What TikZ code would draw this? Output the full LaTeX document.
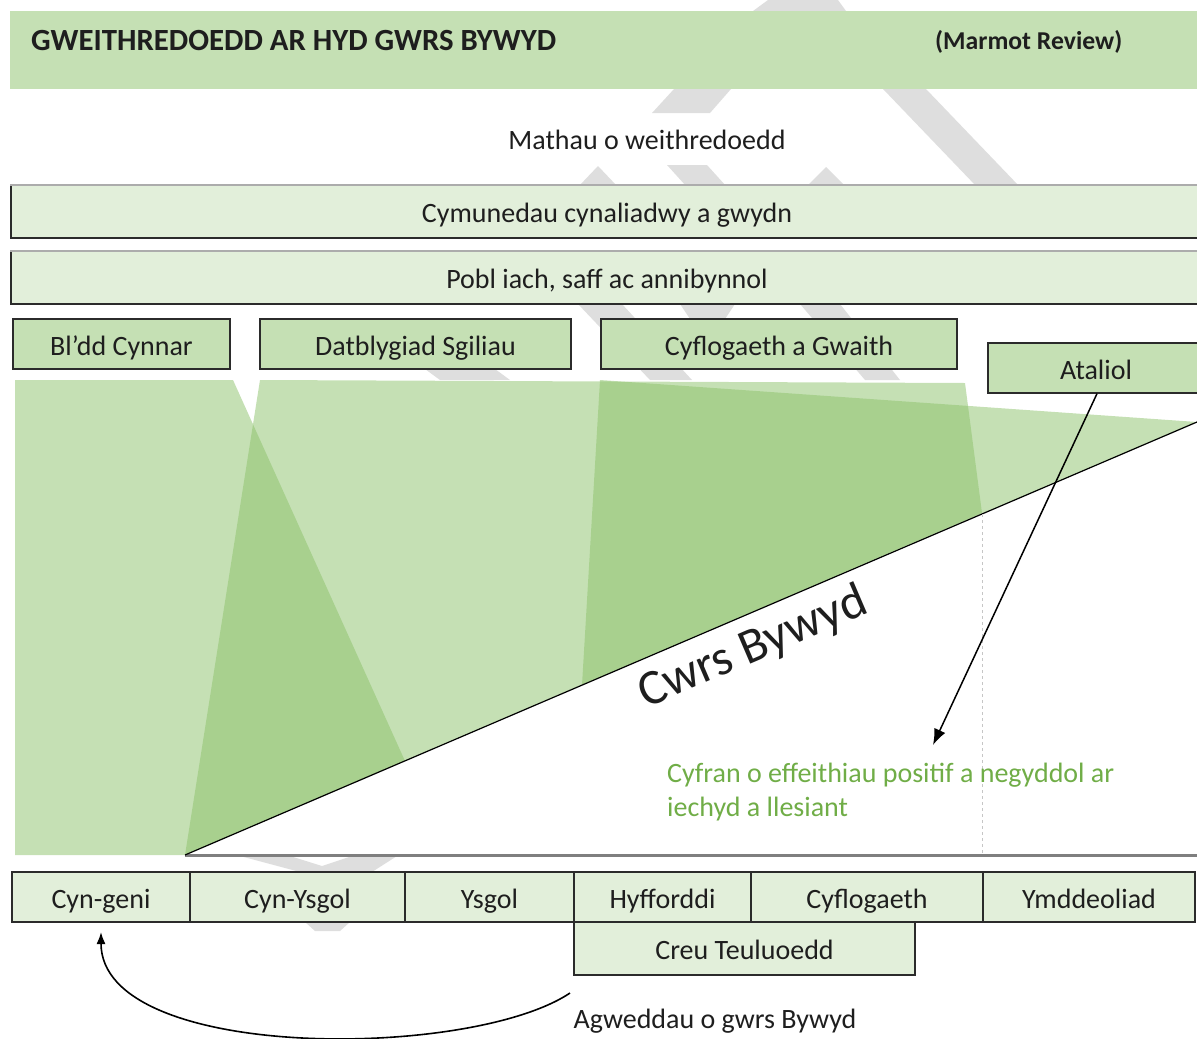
\documentclass[tikz,border=0pt]{standalone}
\usepackage{fontspec}
\setmainfont{Carlito}
\usetikzlibrary{arrows.meta}
\definecolor{hdr}{HTML}{C5E0B4}
\definecolor{pale}{HTML}{E2EFDA}
\definecolor{basegreen}{RGB}{139,193,105}
\definecolor{txtgreen}{HTML}{70AD47}
\definecolor{wm}{HTML}{DEDEDE}
\definecolor{bord}{HTML}{2B2B2B}
\definecolor{ink}{HTML}{1E1E1E}
\definecolor{axisgray}{HTML}{7F7F7F}
\begin{document}
\begin{tikzpicture}[x=1pt,y=-1pt,
  txt/.style={font=\fontsize{28}{34}\selectfont, text=ink, inner sep=0pt},
  boxtext/.style={font=\fontsize{28}{34}\selectfont, text=ink, text height=25pt, text depth=3pt},
  bigbox/.style={boxtext, draw=bord, line width=1.3pt, fill=pale, rectangle, inner sep=0pt,
     minimum height=53pt},
  actbox/.style={boxtext, draw=bord, line width=1.3pt, fill=hdr, rectangle, inner sep=0pt,
     minimum height=50pt},
  stagebox/.style={boxtext, draw=bord, line width=1.3pt, fill=pale, rectangle, inner sep=0pt,
     minimum height=50pt},
  wedge/.style={fill=basegreen, fill opacity=0.5},
  watermark/.style={fill=wm}
]
\useasboundingbox (0,0) rectangle (1197,1039);
\clip (0,0) rectangle (1197,1039);

% faint watermark pieces
\fill[watermark] (753,11) -- (768,0) -- (838,0) -- (846,11) -- cycle;
\fill[watermark] (674,89) -- (731,89) -- (710,113) -- (652,113) -- cycle;
\fill[watermark] (883,89) -- (926,89) -- (1019,186) -- (976,186) -- cycle;
\fill[watermark] (579,186) -- (598,166) -- (617,186) -- cycle;
\fill[watermark] (667,165) -- (707,165) -- (726,186) -- (686,186) -- cycle;
\fill[watermark] (807,186) -- (826,167) -- (845,186) -- cycle;
\fill[watermark] (578,304) -- (622,304) -- (692,380) -- (650,380) -- cycle;
\fill[watermark] (680,304) -- (735,304) -- (725,319) -- (690,319) -- cycle;
\fill[watermark] (800,304) -- (840,304) -- (900,380) -- (865,380) -- cycle;
\fill[watermark] (425,369) -- (495,369) -- (510,380) -- (440,380) -- cycle;
\fill[watermark] (240,856) -- (290,856) -- (322,866) -- (352,856) -- (397,856) -- (372,872) -- (300,872) -- cycle;
\fill[watermark] (305,922) -- (350,922) -- (340,931) -- (315,931) -- cycle;

% header band
\node[fill=hdr, rectangle, inner sep=0pt, minimum width=1187pt, minimum height=78pt] (header) at (603.5,50) {};
\node[txt, font=\bfseries\fontsize{30.8}{36}\selectfont, anchor=west] (title) at (31,41) {GWEITHREDOEDD AR HYD GWRS BYWYD};
\node[txt, font=\bfseries\fontsize{25.7}{32}\selectfont, anchor=west] (marmot) at (935,42) {(Marmot Review)};

\node[txt] (mathau) at (647,140) {Mathau o weithredoedd};

% wide boxes
\node[bigbox, minimum width=1192pt] (cym) at (607,211.5) {Cymunedau cynaliadwy a gwydn};
\node[bigbox, minimum width=1192pt] (pobl) at (607,277.5) {Pobl iach, saff ac annibynnol};
\draw[gray!65, line width=2pt] ([yshift=-1pt]cym.north west) -- ([yshift=-1pt]cym.north east);
\draw[gray!65, line width=2pt] ([yshift=-1pt]pobl.north west) -- ([yshift=-1pt]pobl.north east);

% action boxes
\node[actbox, minimum width=217pt] (bldd) at (121.5,344) {Bl’dd Cynnar};
\node[actbox, minimum width=311pt] (datb) at (415.5,344) {Datblygiad Sgiliau};
\node[actbox, minimum width=356pt] (cyfl) at (779,344) {Cyflogaeth a Gwaith};
\node[actbox, minimum width=216pt] (ataliol) at (1096,368) {Ataliol};

% green wedges
\fill[wedge] (15,380) -- (233,380) -- (405,761) -- (185,855) -- (15,855) -- cycle;
\fill[wedge] (260,380) -- (965,383) -- (982,513) -- (185,855) -- cycle;
\fill[wedge] (600,380) -- (1197,422) -- (582,685) -- cycle;

% life course line
\draw[axisgray, line width=3pt] (185,855) -- (1199,855);
\draw[black, line width=1.2pt] (185,855) -- (1197,422);
\draw[gray!45, dashed, line width=0.8pt] (982,514) -- (982,853);
\node[txt, font=\fontsize{50}{58}\selectfont, rotate=23.2] (cwrs) at (753,648) {Cwrs Bywyd};

% effect text and arrow
\node[txt, text=txtgreen, anchor=north west, align=left] (effaith) at (667,763)
  {Cyfran o effeithiau positif a negyddol ar\\iechyd a llesiant};
\coordinate (effend) at (933,745);
\draw[-{Latex[length=16pt,width=12pt]}, line width=1.5pt] ([xshift=1pt]ataliol.south) -- (effend);

% life stages
\node[stagebox, minimum width=178pt] (cyngeni) at (101,897) {Cyn-geni};
\node[stagebox, minimum width=215pt] (cynysgol) at (297.5,897) {Cyn-Ysgol};
\node[stagebox, minimum width=169pt] (ysgol) at (489.5,897) {Ysgol};
\node[stagebox, minimum width=177pt] (hyff) at (662.5,897) {Hyfforddi};
\node[stagebox, minimum width=232pt] (cyflog) at (867,897) {Cyflogaeth};
\node[stagebox, minimum width=212pt] (ymdd) at (1089,897) {Ymddeoliad};
\node[stagebox, minimum width=341pt, minimum height=53pt] (creu) at (744.5,948.5) {Creu Teuluoedd};

\node[txt] (agweddau) at (715,1021) {Agweddau o gwrs Bywyd};
\coordinate (agstart) at (570,993);
\coordinate (agend) at (101,932);
\draw[-{Latex[length=12pt,width=9pt]}, line width=1.6pt] (agstart) .. controls (470,1060) and (101,1062) .. (agend);
\end{tikzpicture}
\end{document}
